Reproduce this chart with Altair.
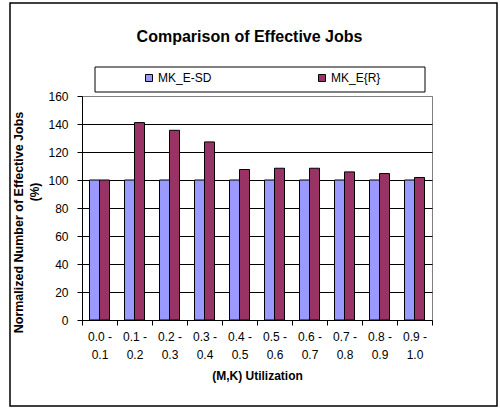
import altair as alt
import pandas as pd

categories = ["0.0 - 0.1", "0.1 - 0.2", "0.2 - 0.3", "0.3 - 0.4", "0.4 - 0.5",
              "0.5 - 0.6", "0.6 - 0.7", "0.7 - 0.8", "0.8 - 0.9", "0.9 - 1.0"]
series_names = ["MK_E-SD", "MK_E{R}"]
mk_e_sd = [100, 100, 100, 100, 100, 100, 100, 100, 100, 100]
mk_e_r = [100, 141, 135.5, 127.2, 107.5, 108.4, 108.4, 105.8, 104.6, 101.8]
colors = ["#9999FF", "#993366"]
chart_title = "Comparison of Effective Jobs"

rows = []
for c, a, b in zip(categories, mk_e_sd, mk_e_r):
    rows.append({"cat": c, "series": series_names[0], "value": a})
    rows.append({"cat": c, "series": series_names[1], "value": b})
df = pd.DataFrame(rows)

FONT = "Liberation Sans"

bars = alt.Chart(df).mark_bar(stroke="black", strokeWidth=1).encode(
    x=alt.X("cat:N", sort=categories,
            scale=alt.Scale(paddingInner=0, paddingOuter=0),
            axis=alt.Axis(title="(M,K) Utilization", labelAngle=0,
                          labelExpr="[slice(datum.label,0,5), slice(datum.label,6)]",
                          labelLineHeight=18, labelFontSize=12, labelPadding=6,
                          tickBand="extent", tickSize=5, tickColor="black",
                          domainColor="black", grid=False,
                          titleFontSize=12, titleFontWeight="bold", titlePadding=10)),
    xOffset=alt.XOffset("series:N", sort=series_names,
                        scale=alt.Scale(paddingInner=0, paddingOuter=0.75)),
    y=alt.Y("value:Q", scale=alt.Scale(domain=[0, 160], nice=False),
            axis=alt.Axis(title="Normalized Number of Effective Jobs",
                          values=[0, 20, 40, 60, 80, 100, 120, 140, 160],
                          labelFontSize=12, labelPadding=9, tickSize=5,
                          tickColor="black", domainColor="black",
                          gridColor={"condition": {"test": "datum.value === 160", "value": "#808080"}, "value": "black"},
                          titleFontSize=12.5, titleFontWeight="bold", titlePadding=22,
                          titleY=126)),
    color=alt.Color("series:N", sort=series_names,
                    scale=alt.Scale(domain=series_names, range=colors),
                    legend=alt.Legend(title=None, orient="none", legendX=61, legendY=-24,
                                      direction="horizontal", columnPadding=104,
                                      symbolType="square", symbolSize=49,
                                      symbolStrokeColor="black", symbolStrokeWidth=1,
                                      labelFontSize=12, labelOffset=3, padding=0)),
)

one = alt.Data(values=[{}])

outer = alt.Chart(one).mark_rect(fill=None, stroke="black", strokeWidth=1.5).encode(
    x=alt.value(-72), x2=alt.value(415), y=alt.value(-93), y2=alt.value(310))

legend_box = alt.Chart(one).mark_rect(fill="white", stroke="black", strokeWidth=1).encode(
    x=alt.value(13), x2=alt.value(343), y=alt.value(-29), y2=alt.value(-4))

pct = alt.Chart(one).mark_text(text="(%)", angle=270, font=FONT, fontSize=12,
                               fontWeight="bold", align="center", baseline="middle").encode(
    x=alt.value(35 - 82), y=alt.value(192 - 96))

title = alt.Chart(one).mark_text(text=chart_title, font=FONT, fontSize=16,
                                 fontWeight="bold", align="center", baseline="alphabetic",
                                 color="black").encode(
    x=alt.value(249.5 - 82), y=alt.value(42 - 96))

chart = alt.layer(outer, legend_box, bars, pct, title).properties(
    width=350, height=224,
    autosize=alt.AutoSizeParams(type="none"),
    padding={"left": 82, "top": 96, "right": 68, "bottom": 89},
).configure(font=FONT).configure_view(stroke="#808080", strokeWidth=1).configure_axis(
    labelColor="black", titleColor="black", labelFont=FONT, titleFont=FONT
).configure_legend(labelFont=FONT, labelColor="black")

chart.save("out.html", embed_options={"renderer": "svg", "actions": False})
